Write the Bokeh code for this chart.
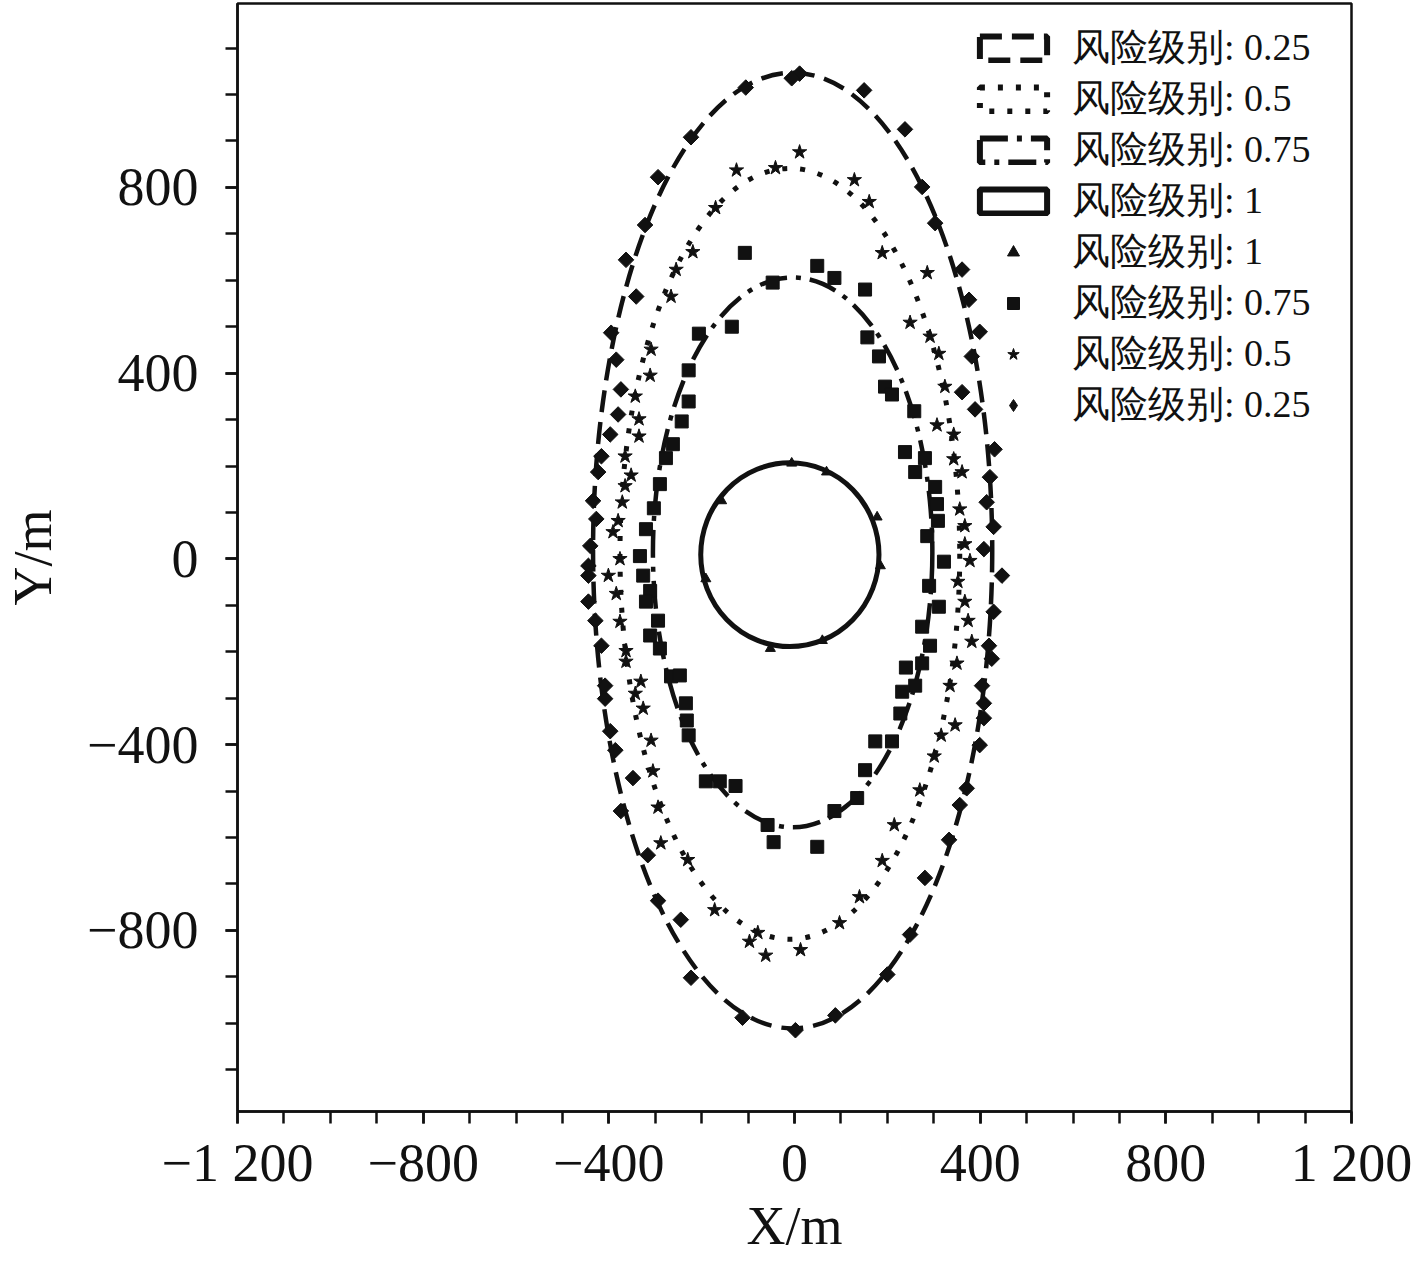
import numpy as np
from bokeh.plotting import figure
from bokeh.models import (ColumnDataSource, FixedTicker, Legend, LegendItem, Range1d)
from bokeh.embed import file_html
from bokeh.resources import INLINE

# ---------------- data ----------------
# fitted risk contours (ellipses): level, centre, full width, full height
ellipse_level = ["0.25", "0.5", "0.75", "1"]
ellipse_cx = [-4, -10, -4, -10]
ellipse_cy = [18, 11, 14, 9]
ellipse_w = [860, 732, 602, 384]
ellipse_h = [2058, 1660, 1184, 396]

# sample points, risk level 1 (triangles)
tri_x = [-6, 69, 178, 185, 60, -52, -191, -157]
tri_y = [206, 187, 90, -15, -176, -193, -43, 125]

# sample points, risk level 0.75 (squares)
sq_x = [-107, 49, 86, 152, -47, -135, -206, 157, -228, -228, -243, -262, -277, -290, -303,
        -320, -333, -326, -311, -320, -294, -311, -290, -266, -247, -234, -232, -228, -191, -161,
        -127, 182, 195, 210, 258, 238, 281, 260, 303, 307, 309, 286, 322, 290, 311,
        275, 292, 275, 240, 260, 232, 228, 210, 174, 152, -58, -45, 49, 135, 86]
sq_y = [659, 631, 605, 580, 595, 500, 485, 477, 406, 339, 296, 247, 217, 161, 109,
        64, 6, -36, -69, -92, -133, -165, -193, -253, -251, -311, -348, -380, -479, -479,
        -489, 436, 371, 354, 318, 230, 217, 187, 155, 118, 82, 49, -6, -58, -103,
        -146, -187, -225, -234, -273, -286, -333, -393, -393, -455, -573, -610, -620, -515, -543]

# sample points, risk level 0.5 (stars)
star_x = [11, -125, -41, 129, -170, 161, -219, 189, -255, 286, -266, 249, 292, -309, -311,
          -343, -335, -335, -365, -352, -365, -371, -380, -391, -376, -401, -384, -376, -363, -363,
          -331, -343, -326, -309, -305, 311, 324, 307, 343, 343, 361, 356, 367, 367, 378,
          352, 367, 374, 382, 350, 335, 346, 316, 301, 270, -294, -288, -230, -172, -97,
          -79, -62, 13, 97, 140, 189, 215]
star_y = [876, 837, 842, 816, 756, 769, 661, 659, 623, 616, 565, 509, 479, 451, 395,
          350, 301, 264, 221, 180, 157, 122, 82, 58, 0, -36, -75, -135, -198, -221,
          -264, -290, -322, -391, -457, 442, 371, 288, 268, 215, 187, 107, 71, 32, -4,
          -49, -92, -133, -178, -225, -273, -358, -380, -425, -498, -535, -612, -648, -756, -824,
          -805, -854, -842, -784, -728, -650, -573]

# sample points, risk level 0.25 (diamonds)
dia_x = [11, -6, -105, 150, 238, -223, -294, 275, -322, 303, -363, 361, -341, 376, -395,
         399, -384, -374, -380, -397, -416, -423, -434, -427, -440, -444, -444, -444, -429, -416,
         -408, -408, -397, -386, -348, 382, 361, 389, 431, 421, 414, 429, 408, 447, 429,
         419, 425, 404, 408, 408, 399, 371, -374, -316, -294, -245, -223, -112, 2, 88,
         200, 249, 281, 333, 356]
dia_y = [1045, 1035, 1015, 1009, 925, 908, 822, 801, 719, 723, 644, 623, 565, 558, 487,
         489, 429, 365, 311, 268, 221, 187, 125, 86, 28, -15, -36, -92, -133, -187,
         -273, -301, -371, -412, -472, 436, 359, 322, 236, 176, 122, 69, 21, -36, -114,
         -187, -215, -273, -311, -343, -401, -494, -543, -638, -736, -777, -902, -988, -1015, -983,
         -895, -809, -687, -605, -530]

x_tick_values = [-1200, -800, -400, 0, 400, 800, 1200]
x_tick_labels = ["\u22121 200", "\u2212800", "\u2212400", "0", "400", "800", "1 200"]
y_tick_values = [-800, -400, 0, 400, 800]
y_tick_labels = ["\u2212800", "\u2212400", "0", "400", "800"]
minor_tick_values = list(range(-1200, 1201, 100))

legend_prefix = "风险级别: "
x_title = "X/m"
y_title = "Y/m"

# ---------------- styling ----------------
INK = "#111111"
SERIF = "Liberation Serif"
line_dash_by_level = {"0.25": "22 10", "0.5": "5 13", "0.75": "28 9 5 9", "1": "solid"}
line_width_by_level = {"0.25": 4.5, "0.5": 5, "0.75": 4.5, "1": 5}

W, H = 1412, 1258
p = figure(width=W, height=H,
           x_range=Range1d(-1200, 1200), y_range=Range1d(-1190, 1196),
           output_backend="svg", toolbar_location=None,
           min_border_left=233, min_border_right=W - 1351, min_border_top=3,
           min_border_bottom=H - 1113)
p.background_fill_color = "white"
p.border_fill_color = "white"
p.grid.visible = False
p.outline_line_color = INK
p.outline_line_width = 2.5

# ellipses (fitted contours)
for lvl, cx, cy, w, h in zip(ellipse_level, ellipse_cx, ellipse_cy, ellipse_w, ellipse_h):
    p.ellipse(x=[cx], y=[cy], width=[w], height=[h], fill_color=None,
              line_color=INK, line_width=line_width_by_level[lvl],
              line_dash=line_dash_by_level[lvl])

# legend-only proxies (NaN positions, never drawn in the plot area)
proxy = {}
for lvl in ellipse_level:
    src = ColumnDataSource(dict(left=[np.nan], right=[np.nan], top=[np.nan], bottom=[np.nan]))
    proxy[lvl] = p.quad(left="left", right="right", top="top", bottom="bottom", source=src,
                        fill_color=None, line_color=INK, line_width=6,
                        line_dash=line_dash_by_level[lvl])
dia_proxy = p.scatter(x=[np.nan], y=[np.nan], marker="diamond", size=18, color=INK)

r_tri = p.scatter(tri_x, tri_y, marker="triangle", size=10, color=INK)
r_sq = p.scatter(sq_x, sq_y, marker="square", size=13, color=INK)
r_star = p.scatter(star_x, star_y, marker="star", size=15, color=INK)
r_dia = p.scatter(dia_x, dia_y, marker="square", angle=np.pi / 4, size=11, color=INK)

items = [
    LegendItem(label=legend_prefix + "0.25", renderers=[proxy["0.25"]]),
    LegendItem(label=legend_prefix + "0.5", renderers=[proxy["0.5"]]),
    LegendItem(label=legend_prefix + "0.75", renderers=[proxy["0.75"]]),
    LegendItem(label=legend_prefix + "1", renderers=[proxy["1"]]),
    LegendItem(label=legend_prefix + "1", renderers=[r_tri]),
    LegendItem(label=legend_prefix + "0.75", renderers=[r_sq]),
    LegendItem(label=legend_prefix + "0.5", renderers=[r_star]),
    LegendItem(label=legend_prefix + "0.25", renderers=[dia_proxy]),
]
legend = Legend(items=items, location=(734, 681), padding=0, margin=0, spacing=0,
                glyph_width=84, glyph_height=30, label_height=50, label_standoff=17,
                label_text_font=SERIF, label_text_font_size="38px", label_text_color=INK,
                background_fill_alpha=0, border_line_alpha=0)
p.add_layout(legend)

# axes
for ax, vals, labs, standoff, title, tstand in (
        (p.xaxis[0], x_tick_values, x_tick_labels, 9, x_title, 0),
        (p.yaxis[0], y_tick_values, y_tick_labels, 27, y_title, 21)):
    ax.ticker = FixedTicker(ticks=vals, minor_ticks=minor_tick_values)
    ax.major_label_overrides = {v: s for v, s in zip(vals, labs)}
    ax.major_label_text_font = SERIF
    ax.major_label_text_font_size = "54px"
    ax.major_label_text_color = INK
    ax.major_label_standoff = standoff
    ax.axis_label = title
    ax.axis_label_text_font = SERIF
    ax.axis_label_text_font_size = "54px"
    ax.axis_label_text_font_style = "normal"
    ax.axis_label_text_color = INK
    ax.axis_label_standoff = tstand
    ax.axis_line_color = INK
    ax.axis_line_width = 2.5
    ax.major_tick_line_color = INK
    ax.major_tick_line_width = 2.5
    ax.minor_tick_line_color = INK
    ax.minor_tick_line_width = 2.5
    ax.major_tick_in = 0
    ax.major_tick_out = 12
    ax.minor_tick_in = 0
    ax.minor_tick_out = 12

open("out.html", "w").write(file_html(p, INLINE))
